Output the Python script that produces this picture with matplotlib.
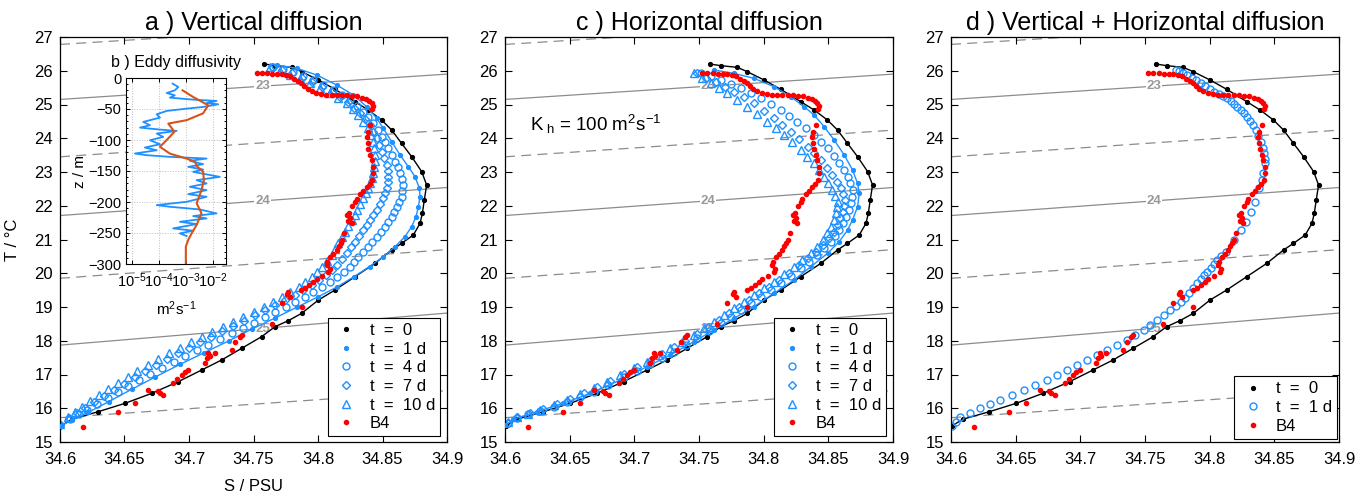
import matplotlib.pyplot as plt
import numpy as np

plt.rcParams['font.family'] = ['Liberation Sans', 'DejaVu Sans']
plt.rcParams['mathtext.fontset'] = 'custom'
plt.rcParams['mathtext.rm'] = 'Liberation Sans'
plt.rcParams['mathtext.it'] = 'Liberation Sans:italic'

BLUE = '#1E90FF'
ORANGE = '#D95319'
GREY = '#8c8c8c'

# ---- isopycnals (sigma-t), T at S = 34.6 and S = 34.9 ----
sigma_levels = [22.5, 23.0, 23.5, 24.0, 24.5, 25.0, 25.5]
sigma_t_left = [26.78, 25.15, 23.45, 21.71, 19.85, 17.87, 15.72]
sigma_t_right = [27.50, 25.90, 24.24, 22.54, 20.70, 18.82, 16.52]
sigma_labels = {23.0: 25.54, 24.0: 22.14, 25.0: 18.36}   # T of label at S = 34.757

# ---- initial profile t = 0 ----
t0_s = [34.7584, 34.7667, 34.7796, 34.7873, 34.8003, 34.8132, 34.8287, 34.8390, 34.8493,
        34.8571, 34.8648, 34.8726, 34.8804, 34.8842, 34.8824, 34.8809, 34.8791, 34.8739,
        34.8648, 34.8571, 34.8442, 34.8287, 34.8132, 34.8003, 34.7873, 34.7770, 34.7667,
        34.7563, 34.7408, 34.7253, 34.7098, 34.6917, 34.6711, 34.6504, 34.6297, 34.6090, 34.6005]
t0_t = [26.200, 26.151, 26.101, 25.973, 25.726, 25.449, 25.084, 24.837, 24.541,
        24.244, 23.849, 23.454, 23.010, 22.615, 22.170, 21.775, 21.479, 21.133,
        20.886, 20.689, 20.294, 19.899, 19.504, 19.207, 18.812, 18.595, 18.417,
        18.121, 17.775, 17.430, 17.133, 16.788, 16.442, 16.146, 15.899, 15.672, 15.470]

# ---- observed station B4 ----
b4_s = [34.7525, 34.7565, 34.7605, 34.7645, 34.7685, 34.7720, 34.7755, 34.7785, 34.7815, 34.7845,
        34.7870, 34.7895, 34.7920, 34.7950, 34.7985, 34.8025, 34.8065, 34.8105, 34.8145, 34.8185,
        34.8225, 34.8265, 34.8305, 34.8340, 34.8370, 34.8395, 34.8415, 34.8428, 34.8422, 34.8403,
        34.8385, 34.8377, 34.8385, 34.8390, 34.8405, 34.8416, 34.8425, 34.8429, 34.8420, 34.8400,
        34.8377, 34.8350, 34.8326, 34.8300, 34.8287, 34.8265, 34.8240, 34.8225, 34.8250, 34.8261,
        34.8235, 34.8205, 34.8185, 34.8175, 34.8160, 34.8145, 34.8115, 34.8093, 34.8070, 34.8067,
        34.8090, 34.8080, 34.8030, 34.7990, 34.7964, 34.7930, 34.7899, 34.7870, 34.7770, 34.7783,
        34.7760, 34.7718, 34.7873, 34.7641, 34.7410, 34.7395, 34.7357, 34.7331, 34.7150, 34.7137,
        34.7124, 34.7160, 34.7202, 34.6995, 34.6970, 34.6943, 34.6910, 34.6879, 34.6775, 34.6801,
        34.6760, 34.6685, 34.6581, 34.6452, 34.6180]
b4_t = [25.943, 25.935, 25.925, 25.917, 25.910, 25.900, 25.875, 25.830, 25.770, 25.700,
        25.630, 25.540, 25.460, 25.390, 25.330, 25.300, 25.290, 25.288, 25.285, 25.282,
        25.275, 25.262, 25.240, 25.205, 25.160, 25.100, 25.040, 24.960, 24.880, 24.380,
        24.200, 24.050, 23.850, 23.680, 23.500, 23.350, 23.150, 22.960, 22.750, 22.640,
        22.560, 22.450, 22.340, 22.200, 22.110, 21.980, 21.800, 21.720, 21.640, 21.480,
        21.560, 21.200, 21.000, 20.900, 20.800, 20.690, 20.560, 20.490, 20.320, 20.250,
        20.120, 20.050, 19.920, 19.820, 19.750, 19.640, 19.550, 19.500, 19.450, 19.290,
        19.380, 19.110, 18.990, 18.490, 18.160, 18.100, 17.970, 17.730, 17.630, 17.480,
        17.330, 17.560, 17.630, 17.130, 17.060, 16.985, 16.880, 16.740, 16.440, 16.390,
        16.520, 16.540, 16.146, 15.899, 15.440]

# ---- a) vertical diffusion ----
va_1d_s = [34.7680, 34.7835, 34.7990, 34.8145, 34.8274, 34.8377, 34.8455, 34.8506, 34.8571, 34.8636,
           34.8700, 34.8752, 34.8786, 34.8791, 34.8778, 34.8760, 34.8726, 34.8674, 34.8597, 34.8506,
           34.8400, 34.8280, 34.8150, 34.8000, 34.7840, 34.7670, 34.7490, 34.7310, 34.7120, 34.6930,
           34.6740, 34.6560, 34.6380, 34.6220, 34.6090, 34.6000]
va_1d_t = [26.171, 26.072, 25.875, 25.578, 25.282, 24.936, 24.591, 24.294, 23.899, 23.504,
           23.159, 22.862, 22.517, 22.270, 21.973, 21.677, 21.381, 21.084, 20.788, 20.492,
           20.200, 19.900, 19.600, 19.300, 19.000, 18.680, 18.350, 18.000, 17.650, 17.300,
           16.930, 16.570, 16.200, 15.880, 15.640, 15.470]
va_4d_s = [34.7654, 34.7730, 34.7809, 34.7885, 34.7964, 34.8040, 34.8119, 34.8185, 34.8248, 34.8300,
           34.8351, 34.8390, 34.8429, 34.8462, 34.8494, 34.8520, 34.8545, 34.8571, 34.8597, 34.8617,
           34.8636, 34.8648, 34.8656, 34.8654, 34.8649, 34.8630, 34.8610, 34.8590, 34.8571, 34.8545,
           34.8519, 34.8487, 34.8455, 34.8422, 34.8390, 34.8352, 34.8313, 34.8280, 34.8250, 34.8200,
           34.8150, 34.8090, 34.8030, 34.7965, 34.7900, 34.7825, 34.7750, 34.7670, 34.7590, 34.7505,
           34.7420, 34.7330, 34.7240, 34.7150, 34.7060, 34.6970, 34.6880, 34.6790, 34.6700, 34.6615,
           34.6530, 34.6450, 34.6370, 34.6290, 34.6210, 34.6145, 34.6080, 34.6000]
va_4d_t = [26.121, 26.055, 25.973, 25.855, 25.726, 25.580, 25.430, 25.280, 25.134, 24.960,
           24.788, 24.615, 24.442, 24.245, 24.047, 23.875, 23.702, 23.505, 23.307, 23.135,
           22.961, 22.790, 22.615, 22.440, 22.270, 22.120, 21.973, 21.825, 21.677, 21.530,
           21.381, 21.230, 21.084, 20.935, 20.788, 20.640, 20.492, 20.345, 20.200, 20.050,
           19.900, 19.750, 19.600, 19.450, 19.300, 19.150, 19.000, 18.850, 18.700, 18.540,
           18.380, 18.215, 18.050, 17.885, 17.720, 17.550, 17.380, 17.200, 17.020, 16.840,
           16.660, 16.480, 16.300, 16.125, 15.950, 15.815, 15.680, 15.490]
va_7d_s = [34.7641, 34.7718, 34.7796, 34.7873, 34.7951, 34.8028, 34.8106, 34.8170, 34.8235, 34.8280,
           34.8326, 34.8365, 34.8403, 34.8430, 34.8455, 34.8475, 34.8494, 34.8513, 34.8532, 34.8540,
           34.8545, 34.8540, 34.8532, 34.8517, 34.8501, 34.8478, 34.8455, 34.8430, 34.8403, 34.8377,
           34.8351, 34.8320, 34.8287, 34.8255, 34.8222, 34.8185, 34.8150, 34.8105, 34.8060, 34.8005,
           34.7950, 34.7885, 34.7820, 34.7745, 34.7670, 34.7590, 34.7510, 34.7425, 34.7340, 34.7255,
           34.7170, 34.7085, 34.7000, 34.6915, 34.6830, 34.6745, 34.6660, 34.6580, 34.6500, 34.6420,
           34.6340, 34.6265, 34.6190, 34.6130, 34.6070, 34.6000]
va_7d_t = [26.121, 26.025, 25.924, 25.800, 25.677, 25.530, 25.381, 25.230, 25.084, 24.910,
           24.739, 24.565, 24.393, 24.195, 23.998, 23.800, 23.603, 23.405, 23.208, 23.035,
           22.862, 22.690, 22.517, 22.370, 22.220, 22.045, 21.874, 21.725, 21.578, 21.430,
           21.282, 21.110, 20.936, 20.765, 20.591, 20.420, 20.250, 20.100, 19.950, 19.800,
           19.650, 19.500, 19.350, 19.200, 19.050, 18.900, 18.750, 18.600, 18.450, 18.285,
           18.120, 17.960, 17.800, 17.625, 17.450, 17.275, 17.100, 16.915, 16.730, 16.550,
           16.370, 16.185, 16.000, 15.860, 15.720, 15.500]
va_10d_s = [34.7628, 34.7705, 34.7783, 34.7860, 34.7938, 34.8015, 34.8093, 34.8158, 34.8222, 34.8268,
            34.8313, 34.8352, 34.8390, 34.8410, 34.8429, 34.8436, 34.8442, 34.8438, 34.8434, 34.8425,
            34.8416, 34.8403, 34.8390, 34.8370, 34.8351, 34.8328, 34.8305, 34.8283, 34.8261, 34.8235,
            34.8209, 34.8183, 34.8157, 34.8130, 34.8106, 34.8070, 34.8030, 34.7990, 34.7950, 34.7900,
            34.7850, 34.7785, 34.7720, 34.7650, 34.7580, 34.7500, 34.7420, 34.7340, 34.7260, 34.7180,
            34.7100, 34.7015, 34.6930, 34.6845, 34.6760, 34.6680, 34.6600, 34.6525, 34.6450, 34.6375,
            34.6300, 34.6235, 34.6170, 34.6115, 34.6060, 34.6000]
va_10d_t = [26.102, 25.990, 25.875, 25.750, 25.628, 25.480, 25.331, 25.185, 25.035, 24.860,
            24.689, 24.490, 24.294, 24.095, 23.899, 23.700, 23.504, 23.330, 23.159, 22.985,
            22.812, 22.665, 22.517, 22.370, 22.220, 22.045, 21.874, 21.725, 21.578, 21.405,
            21.232, 21.060, 20.886, 20.715, 20.541, 20.370, 20.200, 20.050, 19.900, 19.750,
            19.600, 19.450, 19.300, 19.150, 19.000, 18.850, 18.700, 18.550, 18.400, 18.250,
            18.100, 17.950, 17.800, 17.625, 17.450, 17.275, 17.100, 16.925, 16.750, 16.575,
            16.400, 16.225, 16.050, 15.900, 15.750, 15.520]

# ---- c) horizontal diffusion ----
hc_1d_s = [34.7615, 34.7770, 34.7925, 34.8080, 34.8209, 34.8313, 34.8390, 34.8468, 34.8545, 34.8623,
           34.8687, 34.8726, 34.8739, 34.8726, 34.8687, 34.8649, 34.8584, 34.8494, 34.8365, 34.8235,
           34.8080, 34.7925, 34.7770, 34.7615, 34.7460, 34.7279, 34.7098, 34.6891, 34.6659, 34.6452,
           34.6245, 34.6065, 34.6000]
hc_1d_t = [26.022, 25.923, 25.775, 25.528, 25.232, 24.936, 24.689, 24.343, 23.948, 23.504,
           23.059, 22.664, 22.368, 21.973, 21.578, 21.281, 20.936, 20.590, 20.195, 19.800,
           19.405, 19.010, 18.664, 18.318, 17.973, 17.578, 17.232, 16.837, 16.442, 16.146,
           15.899, 15.672, 15.500]
hc_4d_s = [34.7512, 34.7590, 34.7667, 34.7745, 34.7822, 34.7900, 34.7977, 34.8055, 34.8132, 34.8197,
           34.8261, 34.8326, 34.8390, 34.8444, 34.8494, 34.8541, 34.8584, 34.8619, 34.8649, 34.8671,
           34.8687, 34.8684, 34.8675, 34.8658, 34.8636, 34.8612, 34.8584, 34.8555, 34.8520, 34.8470,
           34.8416, 34.8352, 34.8287, 34.8210, 34.8132, 34.8055, 34.7977, 34.7900, 34.7822, 34.7745,
           34.7667, 34.7577, 34.7486, 34.7396, 34.7305, 34.7215, 34.7124, 34.7020, 34.6917, 34.6800,
           34.6685, 34.6580, 34.6478, 34.6375, 34.6271, 34.6180, 34.6090, 34.6020]
hc_4d_t = [25.923, 25.830, 25.726, 25.605, 25.479, 25.335, 25.183, 25.010, 24.837, 24.665,
           24.491, 24.295, 24.096, 23.900, 23.701, 23.480, 23.257, 23.060, 22.862, 22.665,
           22.467, 22.270, 22.072, 21.875, 21.676, 21.478, 21.281, 21.110, 20.936, 20.740,
           20.541, 20.345, 20.146, 19.925, 19.701, 19.505, 19.306, 19.110, 18.911, 18.715,
           18.516, 18.295, 18.071, 17.875, 17.677, 17.495, 17.311, 17.115, 16.916, 16.700,
           16.491, 16.330, 16.175, 16.050, 15.928, 15.815, 15.701, 15.560]
hc_7d_s = [34.7486, 34.7555, 34.7628, 34.7700, 34.7770, 34.7848, 34.7925, 34.8002, 34.8080, 34.8145,
           34.8209, 34.8274, 34.8339, 34.8392, 34.8442, 34.8488, 34.8532, 34.8566, 34.8597, 34.8614,
           34.8628, 34.8620, 34.8610, 34.8592, 34.8571, 34.8541, 34.8507, 34.8457, 34.8403, 34.8340,
           34.8274, 34.8197, 34.8119, 34.8040, 34.7964, 34.7887, 34.7809, 34.7730, 34.7654, 34.7570,
           34.7486, 34.7395, 34.7305, 34.7215, 34.7124, 34.7020, 34.6917, 34.6815, 34.6711, 34.6608,
           34.6504, 34.6400, 34.6297, 34.6195, 34.6090, 34.6020]
hc_7d_t = [25.923, 25.800, 25.677, 25.530, 25.380, 25.210, 25.035, 24.810, 24.590, 24.390,
           24.195, 23.970, 23.750, 23.550, 23.356, 23.130, 22.911, 22.710, 22.516, 22.340,
           22.170, 21.995, 21.825, 21.625, 21.429, 21.230, 21.035, 20.835, 20.639, 20.440,
           20.244, 20.020, 19.800, 19.600, 19.405, 19.205, 19.010, 18.810, 18.615, 18.405,
           18.200, 18.000, 17.805, 17.605, 17.410, 17.210, 17.015, 16.815, 16.620, 16.440,
           16.264, 16.115, 15.968, 15.850, 15.731, 15.570]
hc_10d_s = [34.7460, 34.7525, 34.7589, 34.7655, 34.7718, 34.7795, 34.7873, 34.7950, 34.8028, 34.8093,
            34.8158, 34.8222, 34.8287, 34.8338, 34.8390, 34.8430, 34.8468, 34.8500, 34.8532, 34.8552,
            34.8571, 34.8565, 34.8558, 34.8540, 34.8520, 34.8490, 34.8455, 34.8410, 34.8365, 34.8300,
            34.8235, 34.8158, 34.8080, 34.8002, 34.7925, 34.7848, 34.7770, 34.7692, 34.7615, 34.7537,
            34.7460, 34.7370, 34.7279, 34.7190, 34.7098, 34.6995, 34.6891, 34.6788, 34.6685, 34.6580,
            34.6478, 34.6375, 34.6271, 34.6180, 34.6090, 34.6020]
hc_10d_t = [25.923, 25.775, 25.627, 25.480, 25.331, 25.135, 24.936, 24.715, 24.491, 24.295,
            24.096, 23.875, 23.652, 23.455, 23.257, 23.060, 22.862, 22.665, 22.467, 22.295,
            22.121, 21.950, 21.775, 21.578, 21.380, 21.180, 20.985, 20.790, 20.590, 20.395,
            20.195, 19.975, 19.751, 19.555, 19.355, 19.160, 18.960, 18.760, 18.565, 18.365,
            18.170, 17.970, 17.775, 17.580, 17.380, 17.180, 16.985, 16.785, 16.590, 16.415,
            16.244, 16.095, 15.948, 15.840, 15.731, 15.580]

# ---- d) vertical + horizontal diffusion ----
vh_1d_s = [34.7736, 34.7765, 34.7795, 34.7827, 34.7860, 34.7895, 34.7930, 34.7965, 34.8000, 34.8034,
           34.8070, 34.8105, 34.8137, 34.8165, 34.8190, 34.8214, 34.8240, 34.8265, 34.8292, 34.8315,
           34.8335, 34.8357, 34.8375, 34.8395, 34.8410, 34.8421, 34.8426, 34.8426, 34.8416, 34.8401,
           34.8382, 34.8349, 34.8318, 34.8279, 34.8240, 34.8189, 34.8124, 34.8090, 34.8060, 34.8035,
           34.8008, 34.7982, 34.7956, 34.7930, 34.7904, 34.7872, 34.7840, 34.7808, 34.7775, 34.7736,
           34.7697, 34.7645, 34.7594, 34.7542, 34.7490, 34.7426, 34.7362, 34.7285, 34.7207, 34.7130,
           34.7052, 34.6974, 34.6896, 34.6819, 34.6742, 34.6650, 34.6561, 34.6470, 34.6380, 34.6300,
           34.6225, 34.6150, 34.6070, 34.6035, 34.6005]
vh_1d_t = [26.022, 25.985, 25.935, 25.874, 25.800, 25.715, 25.627, 25.545, 25.465, 25.380,
           25.310, 25.245, 25.183, 25.100, 25.020, 24.936, 24.840, 24.740, 24.639, 24.520,
           24.390, 24.244, 24.070, 23.899, 23.720, 23.553, 23.400, 23.257, 22.960, 22.763,
           22.516, 22.121, 21.825, 21.528, 21.281, 20.985, 20.639, 20.510, 20.393, 20.270,
           20.146, 20.045, 19.948, 19.825, 19.701, 19.550, 19.405, 19.280, 19.158, 19.030,
           18.911, 18.760, 18.615, 18.465, 18.318, 18.170, 18.022, 17.875, 17.726, 17.578,
           17.430, 17.280, 17.133, 16.985, 16.837, 16.690, 16.541, 16.390, 16.244, 16.120,
           15.997, 15.865, 15.731, 15.600, 15.480]

# ---- b) eddy diffusivity profile (log10 of m^2 s^-1) ----
kz_obs_z = [-9.1, -14.5, -19.9, -24.2, -27.9, -31.7, -34.9, -37.0, -40.3, -42.4, -46.7, -49.4, -53.1,
            -58.5, -63.9, -70.8, -76.2, -80.0, -83.2, -85.3, -89.6, -95.0, -100.4, -106.8, -112.2,
            -116.5, -121.8, -124.5, -127.2, -129.9, -133.6, -139.0, -143.3, -147.6, -151.4, -159.4,
            -164.8, -170.1, -175.5, -180.9, -187.3, -191.6, -199.7, -205.0, -207.7, -212.0, -218.4,
            -222.7, -226.5, -231.9, -235.6, -242.6, -246.3, -250.6, -254.9]
kz_obs_log = [-3.48, -3.27, -3.40, -3.70, -3.40, -3.58, -2.72, -1.85, -2.22, -1.79, -2.35, -2.96, -3.70,
              -4.07, -3.95, -4.57, -4.32, -4.69, -3.95, -3.33, -4.07, -3.83, -4.32, -3.95, -4.51,
              -4.07, -4.88, -4.44, -3.58, -2.22, -2.84, -2.35, -2.90, -2.35, -2.72, -1.73,
              -2.59, -2.22, -2.84, -2.22, -2.90, -2.22, -2.96, -4.07, -3.58, -2.47, -1.85,
              -2.72, -2.22, -3.21, -2.59, -3.46, -2.72, -3.21, -2.96]
kz_fit_z = [-19.9, -30.6, -44.0, -57.0, -68.0, -73.5, -84.0, -87.0, -100.0, -111.0, -122.0, -130.0,
            -135.0, -142.0, -151.0, -165.0, -181.0, -202.0, -218.0, -237.0, -251.0, -261.0, -272.0, -300.0]
kz_fit_log = [-3.11, -2.72, -2.16, -2.35, -2.96, -3.64, -3.46, -3.42, -3.70, -3.95, -3.58, -2.96,
              -2.65, -2.59, -2.35, -2.32, -2.41, -2.59, -2.41, -2.59, -2.78, -2.90, -2.99, -2.99]

W, H = 1366, 496
fig = plt.figure(figsize=(W / 100, H / 100), dpi=100)


def px_axes(x0, y0, x1, y1):
    return fig.add_axes([x0 / W, 1 - y1 / H, (x1 - x0) / W, (y1 - y0) / H])


def draw_isopycnals(ax, s_lab=34.757):
    for lev, tl, tr in zip(sigma_levels, sigma_t_left, sigma_t_right):
        ls = '-' if lev in sigma_labels else (0, (8, 5))
        ax.plot([34.6, 34.9], [tl, tr], color=GREY, lw=0.9, ls=ls, zorder=1)
        if lev in sigma_labels:
            ax.text(s_lab, sigma_labels[lev], '%d' % lev, color='#999999', fontsize=9.5,
                    fontweight='bold', ha='center', va='center', zorder=1.5,
                    bbox=dict(facecolor='white', edgecolor='none', pad=0.5))


def style_ts(ax):
    ax.set_xlim(34.6, 34.9)
    ax.set_ylim(15, 27)
    ax.set_xticks([34.6, 34.65, 34.7, 34.75, 34.8, 34.85, 34.9])
    ax.set_xticklabels(['34.6', '34.65', '34.7', '34.75', '34.8', '34.85', '34.9'])
    ax.set_yticks(range(15, 28))
    ax.tick_params(direction='in', top=True, right=True, labelsize=12, length=5, width=0.8)
    ax.tick_params(axis='x', pad=7)
    ax.tick_params(axis='y', pad=5)
    for sp in ax.spines.values():
        sp.set_linewidth(0.9)


def dots(ax, s, t, color, label, ms, z=3):
    ax.plot(s, t, '-', color=color, lw=1.0, zorder=z)
    ax.plot(s, t, '.', color=color, ms=ms, ls='none', label=label, zorder=z)


def opens(ax, s, t, marker, label, ms=5, z=2.5):
    ax.plot(s, t, marker, mfc='none', mec=BLUE, mew=1.0, ms=ms, ls='none', label=label, zorder=z)


def legend(ax, handles, labels, anchor):
    lg = ax.legend(handles, labels, loc='lower right', bbox_to_anchor=anchor, borderaxespad=0,
                   fontsize=12, fancybox=False, edgecolor='black', framealpha=1,
                   labelspacing=0.22, handletextpad=0.6, handlelength=1.6, borderpad=0.3)
    lg.get_frame().set_linewidth(0.8)


axes_px = [(60, 37, 447, 442), (505, 37, 893, 442), (951, 37, 1339, 442)]
titles = ['a ) Vertical diffusion', 'c ) Horizontal diffusion', 'd ) Vertical + Horizontal diffusion']
order = ['t  =  0', 't  =  1 d', 't  =  4 d', 't  =  7 d', 't  =  10 d', 'B4']

panels = [
    (va_1d_s, va_1d_t, va_4d_s, va_4d_t, va_7d_s, va_7d_t, va_10d_s, va_10d_t),
    (hc_1d_s, hc_1d_t, hc_4d_s, hc_4d_t, hc_7d_s, hc_7d_t, hc_10d_s, hc_10d_t),
]

for k in range(2):
    s1, t1, s4, t4, s7, t7, s10, t10 = panels[k]
    ax = px_axes(*axes_px[k])
    draw_isopycnals(ax)
    dots(ax, t0_s, t0_t, 'black', order[0], 5.5, z=2)
    dots(ax, s1, t1, BLUE, order[1], 5.5, z=2.6)
    opens(ax, s4, t4, 'o', order[2])
    opens(ax, s7, t7, 'D', order[3], ms=4.2)
    opens(ax, s10, t10, '^', order[4], ms=5.2)
    ax.plot(b4_s, b4_t, '.', color='red', ms=6, ls='none', label=order[5], zorder=4)
    style_ts(ax)
    ax.set_title(titles[k], fontsize=18, pad=5)
    h, l = ax.get_legend_handles_labels()
    hl = {lab: hh for hh, lab in zip(h, l)}
    legend(ax, [hl[o] for o in order], order, (0.982, 0.014))
    if k == 0:
        ax.set_ylabel('T / \u00b0C', fontsize=12, labelpad=10)
        ax.set_xlabel('S / PSU', fontsize=12, labelpad=9)
    else:
        ax.text(34.6195, 24.4, 'K$_{\\ \\mathrm{h}}$ = 100 m$^2$s$^{-1}$', fontsize=13.5,
                ha='left', va='center')

# inset b
axi = px_axes(126, 78, 226, 264)
axi.plot(10 ** np.array(kz_obs_log), kz_obs_z, color=BLUE, lw=1.3)
axi.plot(10 ** np.array(kz_fit_log), kz_fit_z, color=ORANGE, lw=1.5)
axi.set_xscale('log')
axi.set_xlim(10 ** -5.21, 10 ** -1.5)
axi.set_ylim(-300, 0)
axi.set_yticks(range(-300, 1, 50))
axi.set_xticks([1e-5, 1e-4, 1e-3, 1e-2])
axi.set_xticklabels(['10$^{-5}$', '10$^{-4}$', '10$^{-3}$', '10$^{-2}$'])
axi.grid(True, which='major', color='#bbbbbb', ls=':', lw=0.7)
axi.grid(True, which='minor', axis='x', color='#dddddd', ls=':', lw=0.6)
axi.minorticks_on()
axi.tick_params(which='both', direction='in', top=True, right=True, labelsize=10.5, length=3, width=0.7)
axi.tick_params(which='minor', length=1.5)
axi.tick_params(axis='x', pad=5)
axi.set_title('b ) Eddy diffusivity', fontsize=11.5, pad=8)
axi.set_ylabel('z / m', fontsize=11, labelpad=1)
axi.set_xlabel('m$^2$s$^{-1}$', fontsize=11, labelpad=7)

# panel d
ax = px_axes(*axes_px[2])
draw_isopycnals(ax)
dots(ax, t0_s, t0_t, 'black', 't  =  0', 5.5, z=2)
opens(ax, vh_1d_s, vh_1d_t, 'o', 't  =  1 d')
ax.plot(b4_s, b4_t, '.', color='red', ms=6, ls='none', label='B4', zorder=4)
style_ts(ax)
ax.set_title(titles[2], fontsize=18, pad=5)
h, l = ax.get_legend_handles_labels()
legend(ax, h, l, (0.995, 0.008))

fig.savefig('out.png', dpi=100)
